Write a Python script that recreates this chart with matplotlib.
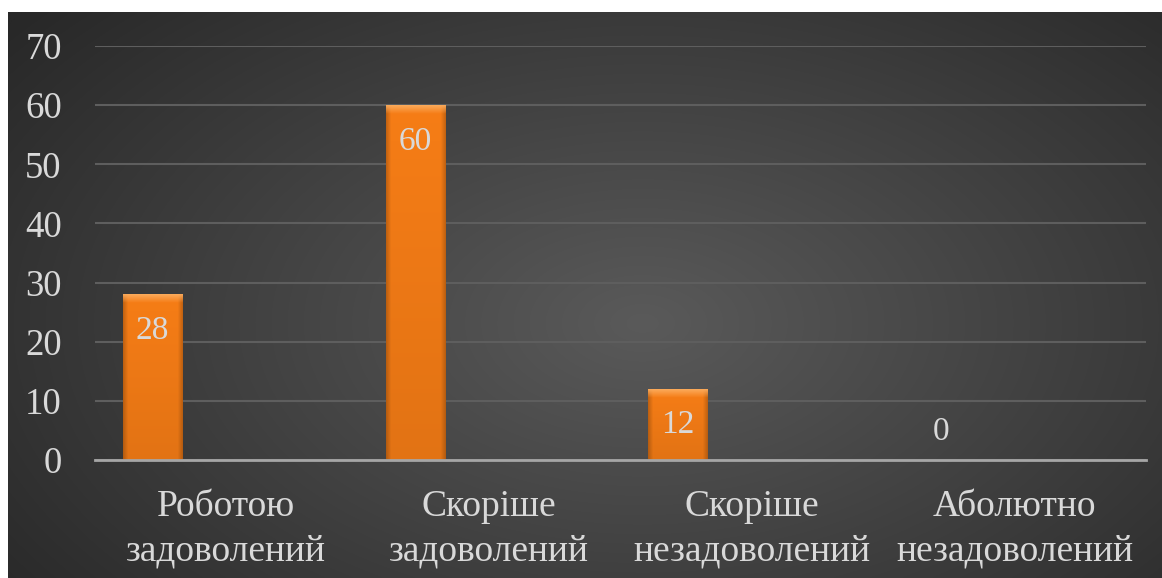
import matplotlib.pyplot as plt
import numpy as np

categories = ["Роботою\nзадоволений", "Скоріше\nзадоволений",
              "Скоріше\nнезадоволений", "Аболютно\nнезадоволений"]
values = [28, 60, 12, 0]
yticks = [0, 10, 20, 30, 40, 50, 60, 70]

FONT = 'Liberation Serif'
plt.rcParams['font.family'] = 'serif'
plt.rcParams['font.serif'] = [FONT]
txt = '#d9d9d9'

fig = plt.figure(figsize=(11.62, 5.78), dpi=100)
fig.patch.set_facecolor('white')

# dark radial background, white margin at top/left like the screenshot
bg = fig.add_axes([8 / 1162, 0, 1 - 8 / 1162, (578 - 12) / 578])
bg.axis('off')
yy, xx = np.mgrid[0:1:300j, 0:1:600j]
r = np.sqrt(((xx - 0.55) / 0.7) ** 2 + ((yy - 0.55) / 0.85) ** 2)
r = np.clip(r, 0, 1)
c0 = np.array([0x5a, 0x5a, 0x5a]) / 255
c1 = np.array([0x28, 0x28, 0x28]) / 255
img = c0[None, None, :] * (1 - r[..., None]) + c1[None, None, :] * r[..., None]
bg.imshow(img, aspect='auto', extent=(0, 1, 0, 1), interpolation='bilinear')
bg.set_xlim(0, 1)
bg.set_ylim(0, 1)

ax = fig.add_axes([95 / 1162, 118 / 578, 1051 / 1162, 414 / 578])
ax.set_facecolor('none')
x = np.arange(len(categories))
bars = ax.bar(x - 0.281, values, width=0.225, color='#f27a16', zorder=3)
ax.set_xlim(-0.5, 3.5)
ax.set_ylim(0, 70)

# bar shading: darker sides, light bevel on top
base = np.array([0xf6, 0x7d, 0x16]) / 255
light = np.array([0xfc, 0xae, 0x60]) / 255
for b, v in zip(bars, values):
    if v <= 0:
        continue
    n = max(int(v * 5.91), 2)
    t = np.linspace(0, 1, 60)
    edge = np.where(t < 0.08, 0.8 + t / 0.08 * 0.2,
                    np.where(t > 0.92, 0.8 + (1 - t) / 0.08 * 0.2, 1.0))
    h = np.linspace(v, 0, n)
    top = np.clip(1 - (v - h) / 1.4, 0, 1)
    shade = 1 - 0.08 * (1 - h / v)
    im = base[None, None, :] * edge[None, :, None] * shade[:, None, None]
    im = im * (1 - top[:, None, None] * 0.9) + light[None, None, :] * top[:, None, None] * 0.9
    im = np.clip(im, 0, 1)
    bx = b.get_x()
    art = ax.imshow(im, extent=(bx, bx + b.get_width(), 0, v), aspect='auto',
                    zorder=4, interpolation='bilinear')
    art.set_clip_path(b)

for b, v in zip(bars, values):
    off = -26 if v > 0 else 20
    ax.annotate(str(v), (b.get_x() + b.get_width() / 2, v), xytext=(0, off),
                textcoords='offset points', ha='center', va='center',
                fontsize=24, color=txt, zorder=5, family=FONT)

ax.set_yticks(yticks)
ax.set_xticks(x)
ax.set_xticklabels(categories, linespacing=1.4, family=FONT)
for lab in ax.get_yticklabels():
    lab.set_family(FONT)
ax.yaxis.grid(True, color='#5e5e5e', linewidth=1.5)
ax.set_axisbelow(True)
for s in ['top', 'right', 'left']:
    ax.spines[s].set_visible(False)
ax.spines['bottom'].set_color('#a6a6a6')
ax.spines['bottom'].set_linewidth(2)
ax.spines['bottom'].set_zorder(6)
ax.tick_params(axis='y', length=0, pad=24, labelsize=26.5, labelcolor=txt)
ax.tick_params(axis='x', length=0, pad=21, labelsize=27, labelcolor=txt)

plt.savefig('out.png', dpi=100)
